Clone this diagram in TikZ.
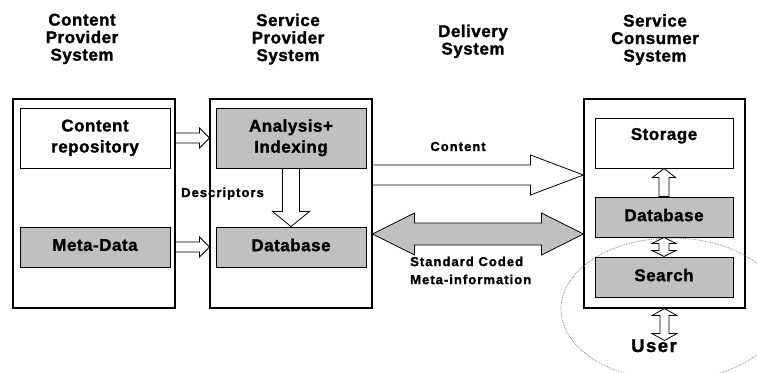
\documentclass[tikz,border=0pt]{standalone}
\usepackage{fontspec}
\setmainfont{Liberation Sans}
\newfontfamily\boxfont[LetterSpace=3, BoldFeatures={FakeBold=1.4}]{Liberation Sans}
\newfontfamily\labelfont[LetterSpace=8, BoldFeatures={FakeBold=1.4}]{Liberation Sans}
\usepackage{tikz}
\usetikzlibrary{calc, positioning}
\definecolor{silver}{HTML}{C0C0C0}

\tikzset{
  system/.style={draw, line width=1.1pt, fill=white, minimum width=162pt, minimum height=209pt, inner sep=0pt},
  module/.style={draw, line width=1pt, fill=white, minimum width=150pt, minimum height=40pt, inner sep=0pt,
    text depth=4pt, align=center, font=\boxfont\bfseries\fontsize{17}{21}\selectfont},
  heading/.style={inner sep=0pt, align=center, anchor=north, font=\boxfont\bfseries\fontsize{17}{17.5}\selectfont},
  caption/.style={inner sep=0pt, align=left, font=\labelfont\bfseries\fontsize{13}{18}\selectfont},
  blockarrow/.style={draw, line width=0.8pt, fill=white, line join=miter},
}

% hollow arrow: [opts]{from}{to}{half shaft}{half head}{head length}
\newcommand{\fatarrow}[6][]{%
  \coordinate (fa-c) at ($(#3)!#6!(#2)$);
  \draw[blockarrow,#1] ($(#2)!#4!90:(#3)$) -- ($(fa-c)!#4!90:(#3)$) -- ($(fa-c)!#5!90:(#3)$) -- (#3)
    -- ($(fa-c)!#5!-90:(#3)$) -- ($(fa-c)!#4!-90:(#3)$) -- ($(#2)!#4!-90:(#3)$) -- cycle;
}
% same with a head at both ends
\newcommand{\fatdarrow}[6][]{%
  \coordinate (fa-c) at ($(#2)!#6!(#3)$);
  \coordinate (fa-d) at ($(#3)!#6!(#2)$);
  \draw[blockarrow,#1] (#2) -- ($(fa-c)!#5!90:(#3)$) -- ($(fa-c)!#4!90:(#3)$) -- ($(fa-d)!#4!90:(#3)$)
    -- ($(fa-d)!#5!90:(#3)$) -- (#3) -- ($(fa-d)!#5!-90:(#3)$) -- ($(fa-d)!#4!-90:(#3)$)
    -- ($(fa-c)!#4!-90:(#3)$) -- ($(fa-c)!#5!-90:(#3)$) -- cycle;
}

\begin{document}
\begin{tikzpicture}[x=1pt, y=-1pt]
  \useasboundingbox (0,0) rectangle (757,372);

  % column headings
  \node[heading] (hcps) at (82,13.5) {Content\\Provider\\System};
  \node[heading] (hsps) at (288,13.5) {Service\\Provider\\System};
  \node[heading] (hdel) at (473,24.5) {Delivery\\System};
  \node[heading] (hscs) at (655,14) {Service\\Consumer\\System};

  % the three systems
  \node[system] (cps) at (94,203.5) {};
  \node[system] (sps) at (291,203.5) {};
  \node[system, minimum width=161pt] (scs) at (664.5,203.5) {};

  % user side
  \draw[black!55, densely dotted, line width=0.7pt] (672,309) ellipse [x radius=111pt, y radius=71pt];

  % modules
  \node[module, minimum height=60pt] (crep) at (95,138) {Content\\repository};
  \node[module, fill=silver] (meta) at (95,247) {Meta-Data};
  \node[module, fill=silver, minimum height=60pt] (anal) at (291,138) {Analysis+\\Indexing};
  \node[module, fill=silver] (spdb) at (291,247) {Database};
  \node[module, minimum width=138pt, minimum height=50pt, text depth=18pt] (stor) at (664,143) {Storage};
  \node[module, fill=silver, minimum width=138pt] (scdb) at (664,217) {Database};
  \node[module, fill=silver, minimum width=138pt] (srch) at (664,277) {Search};
  \node[inner sep=0pt, anchor=base, font=\labelfont\bfseries\fontsize{18.5}{19}\selectfont] (usr) at (654,352) {User};

  % provider side
  \coordinate (crep-out) at (cps.east |- crep.east);
  \coordinate (anal-in) at (sps.west |- crep.east);
  \coordinate (meta-out) at (cps.east |- meta.east);
  \coordinate (spdb-in) at (sps.west |- meta.east);
  \fatarrow{crep-out}{anal-in}{5pt}{10pt}{10pt}
  \fatarrow{meta-out}{spdb-in}{5pt}{10pt}{10pt}
  \fatarrow{anal.south}{spdb.north}{8.5pt}{18.5pt}{15pt}

  % delivery
  \coordinate (cnt-out) at ([yshift=28.5pt]sps.east);
  \coordinate (cnt-in) at ([yshift=28.5pt]scs.west);
  \fatarrow{cnt-out}{cnt-in}{10pt}{20pt}{53pt}
  \coordinate (std-l) at ([yshift=-30.5pt]sps.east);
  \coordinate (std-r) at ([yshift=-30.5pt]scs.west);
  \fatdarrow[fill=silver]{std-l}{std-r}{11pt}{21pt}{42pt}

  % consumer side
  \fatarrow{scdb.north}{stor.south}{5pt}{11.5pt}{9pt}
  \fatdarrow{scdb.south}{srch.north}{5pt}{12pt}{6pt}
  \coordinate (usr-in) at ([yshift=-32pt]scs.south);
  \fatdarrow{scs.south}{usr-in}{4.5pt}{12.5pt}{7pt}

  % labels
  \node[caption, anchor=base] (lcnt) at (458,151) {Content};
  \node[caption, anchor=base west] (ldsc) at (181,197) {Descriptors};
  \node[caption, anchor=north west] (lstd) at (410,256.5) {Standard Coded\\Meta-information};
\end{tikzpicture}
\end{document}
